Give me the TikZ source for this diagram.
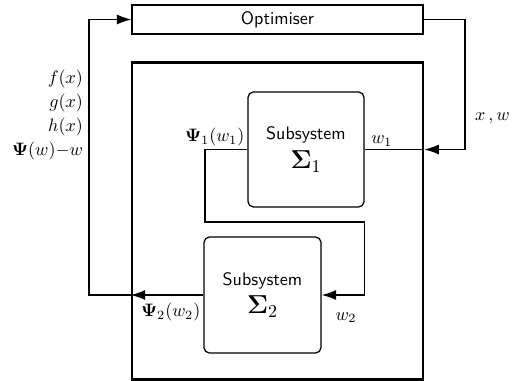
\documentclass[tikz,border=0pt]{standalone}
\usepackage{amsmath,amssymb,bm}
\usepackage{xcolor}
\usepackage{tikz}
\usetikzlibrary{calc,positioning,arrows.meta}
\newlength{\pxu}
\setlength{\pxu}{0.555pt}
\tikzset{
  wire/.style={draw=black, line width=0.7pt},
  arr/.style={wire, -{Latex[length=8pt,width=5.5pt]}},
  optbox/.style={draw=black, line width=0.7pt, minimum width=291\pxu, minimum height=29\pxu, font=\sffamily},
  outerbox/.style={draw=black, line width=1.5pt, minimum width=291\pxu, minimum height=317\pxu},
  subbox/.style={draw=black, line width=0.7pt, rounded corners=3pt, minimum width=116\pxu, minimum height=115\pxu, align=center, font=\sffamily},
  lab/.style={font=\normalsize, inner sep=1.5pt},
}

\begin{document}
\begin{tikzpicture}[x=0.555pt, y=-0.555pt]
  \useasboundingbox (0,0) rectangle (518,381);

  \node[optbox] (opt) at (277.5,19.5) {Optimiser};
  \node[outerbox] (outer) at (277.5,221) {};
  \node[subbox] (sub1) at (306,149.5) {Subsystem\\[4pt] {\Large$\bm{\Sigma}_1$}};
  \node[subbox, minimum width=117\pxu, minimum height=116\pxu] (sub2) at (262.5,295) {Subsystem\\[4pt] {\Large$\bm{\Sigma}_2$}};

  \coordinate (ltop) at (89,19.5);
  \coordinate (rtop) at (465,19.5);
  \coordinate (inR) at (outer.east |- sub1.east);
  \coordinate (outL) at (outer.west |- sub2.west);
  \coordinate (lbend) at (205,222);

  % optimiser -> subsystem 1
  \draw[arr] (opt.east) -- (rtop) |- (inR);
  \draw[wire] (inR) -- (sub1.east);

  % subsystem 1 -> subsystem 2
  \draw[arr] (sub1.west) -| (lbend) -| (sub1.east |- sub2.east) -- (sub2.east);

  % subsystem 2 -> optimiser
  \draw[arr] (sub2.west) -- (outL);
  \draw[arr] (outL) -| (ltop) -- (opt.west);

  \node[lab, anchor=south east] (psi1) at (sub1.west) {$\bm{\Psi}_1(w_1)$};
  \node[lab, anchor=south west, xshift=2pt] (w1) at (sub1.east) {$w_1$};
  \node[lab, anchor=north west, xshift=6pt, yshift=-8pt] (w2) at (sub2.east) {$w_2$};
  \node[lab, anchor=north east, yshift=-3pt] (psi2) at (sub2.west) {$\bm{\Psi}_2(w_2)$};
  \node[lab, anchor=west] (xw) at (472,118) {$x\,,w$};
  \node[lab, anchor=east, align=right] (fgh) at (86,115) {$f(x)$\\[1.5pt]$g(x)$\\[1.5pt]$h(x)$\\[1.5pt]$\bm{\Psi}(w){-}w$};
\end{tikzpicture}
\end{document}
